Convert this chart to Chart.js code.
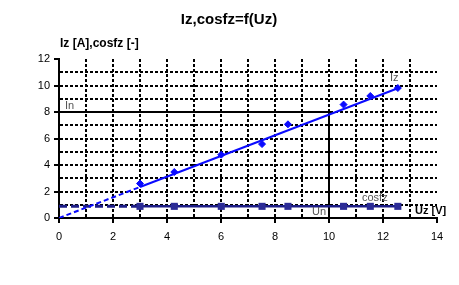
<!DOCTYPE HTML>
<html>
<head>
  <script src="https://cdn.jsdelivr.net/npm/chart.js"></script>
  <style>
    body { margin: 0; background: #fff; }
  </style>
  <script>
    // Measured values
    const uz = [3, 4.27, 6.01, 7.52, 8.48, 10.54, 11.53, 12.55];
    const iz = [2.6, 3.47, 4.78, 5.58, 7.07, 8.56, 9.21, 9.81];
    const cosfz = [0.88, 0.88, 0.88, 0.88, 0.88, 0.88, 0.88, 0.88];

    // Fitted Iz line (dashed part from 0 to 3, then solid)
    const fitUz = [0, 3, 12.55];
    const fitIz = [0, 2.34, 9.79];

    // cosfz line starts at Uz = 0
    const cosStartUz = 0;
    const cosStartVal = 0.88;

    // Nominal values
    const uNom = 10;
    const iNom = 8;

    const xTicks = [0, 2, 4, 6, 8, 10, 12, 14];
    const yTicks = [0, 2, 4, 6, 8, 10, 12];

    const FONT = '"Liberation Sans", Arial, sans-serif';

    const extras = {
      id: 'extras',
      beforeDatasetsDraw(chart) {
        const { ctx, scales: { x, y } } = chart;
        ctx.save();
        ctx.strokeStyle = '#000';
        ctx.lineWidth = 2;
        ctx.beginPath();
        ctx.moveTo(x.getPixelForValue(0), y.getPixelForValue(iNom));
        ctx.lineTo(x.getPixelForValue(uNom), y.getPixelForValue(iNom));
        ctx.moveTo(x.getPixelForValue(uNom), y.getPixelForValue(iNom));
        ctx.lineTo(x.getPixelForValue(uNom), y.getPixelForValue(0));
        ctx.stroke();
        ctx.restore();
      },
      afterDraw(chart) {
        const { ctx } = chart;
        ctx.save();
        ctx.textBaseline = 'middle';
        ctx.fillStyle = '#000';
        ctx.textAlign = 'center';
        ctx.font = 'bold 15px ' + FONT;
        ctx.fillText('Iz,cosfz=f(Uz)', 229, 20);
        ctx.textAlign = 'left';
        ctx.font = 'bold 12px ' + FONT;
        ctx.fillText('Iz [A],cosfz [-]', 60, 44);
        ctx.font = 'bold 11px ' + FONT;
        ctx.fillText('Uz [V]', 415, 211);
        ctx.font = '11px ' + FONT;
        ctx.fillStyle = '#555';
        ctx.fillText('Iz', 390, 78);
        ctx.fillText('In', 65, 106);
        ctx.fillText('Un', 312, 212);
        ctx.fillText('cosfz', 362, 198);
        ctx.restore();
      }
    };

    function drawChart() {
      const ctx = document.getElementById('myChart').getContext('2d');

      const gridColor = (hide) => (c) => hide.includes(c.tick.value) ? 'rgba(0,0,0,0)' : '#000';
      const tickColor = (c) => c.tick.value % 2 === 0 ? '#000' : 'rgba(0,0,0,0)';

      new Chart(ctx, {
        type: 'scatter',
        data: {
          datasets: [
            {
              label: 'Iz fit',
              data: fitUz.map((v, i) => ({ x: v, y: fitIz[i] })),
              showLine: true,
              borderColor: '#0a0aff',
              borderWidth: 2,
              pointRadius: 0,
              segment: {
                borderDash: c => c.p0DataIndex === 0 ? [5, 3] : undefined
              }
            },
            {
              label: 'Iz',
              data: uz.map((v, i) => ({ x: v, y: iz[i] })),
              showLine: false,
              pointStyle: 'rectRot',
              pointRadius: 3.5,
              backgroundColor: '#0a0aff',
              borderColor: '#0a0aff',
              borderWidth: 1
            },
            {
              label: 'cosfz',
              data: [{ x: cosStartUz, y: cosStartVal }].concat(uz.map((v, i) => ({ x: v, y: cosfz[i] }))),
              showLine: true,
              borderColor: '#1c1c86',
              borderWidth: 2.5,
              pointStyle: 'rect',
              pointRadius: c => c.dataIndex === 0 ? 0 : 5,
              backgroundColor: '#2b2b96',
              pointBorderColor: '#2b2b96',
              pointBorderWidth: 0,
              segment: {
                borderDash: c => c.p0DataIndex === 0 ? [8, 4] : undefined,
                borderWidth: c => c.p0DataIndex === 0 ? 3 : 2.5
              }
            }
          ]
        },
        options: {
          responsive: false,
          animation: false,
          layout: { padding: { left: 0, top: 59, right: 22, bottom: 0 } },
          plugins: {
            legend: { display: false },
            tooltip: { enabled: false }
          },
          scales: {
            x: {
              type: 'linear',
              min: 0,
              max: 14,
              afterFit(scale) { scale.height = 67; },
              afterBuildTicks(scale) {
                scale.ticks = Array.from({ length: 15 }, (_, i) => ({ value: i }));
              },
              ticks: {
                callback: v => xTicks.includes(v) ? v : '',
                color: '#000',
                font: { family: FONT, size: 11 },
                padding: 7,
                maxRotation: 0,
                autoSkip: false
              },
              grid: {
                color: gridColor([0, 14]),
                lineWidth: 2,
                tickLength: 5,
                tickColor: tickColor,
                tickWidth: 2
              },
              border: { color: '#000', width: 2, dash: [3, 2] }
            },
            y: {
              type: 'linear',
              min: 0,
              max: 12,
              afterFit(scale) { scale.width = 59; },
              afterBuildTicks(scale) {
                scale.ticks = Array.from({ length: 13 }, (_, i) => ({ value: i }));
              },
              ticks: {
                callback: v => yTicks.includes(v) ? v : '',
                color: '#000',
                font: { family: FONT, size: 11 },
                padding: 4,
                autoSkip: false
              },
              grid: {
                color: gridColor([0, 12]),
                lineWidth: 2,
                tickLength: 5,
                tickColor: tickColor,
                tickWidth: 2
              },
              border: { color: '#000', width: 2, dash: [3, 2] }
            }
          }
        },
        plugins: [extras]
      });
    }

    window.onload = function() {
      drawChart();
    }
  </script>
</head>
<body>
  <canvas id="myChart" width="459" height="285"></canvas>
</body>
</html>
